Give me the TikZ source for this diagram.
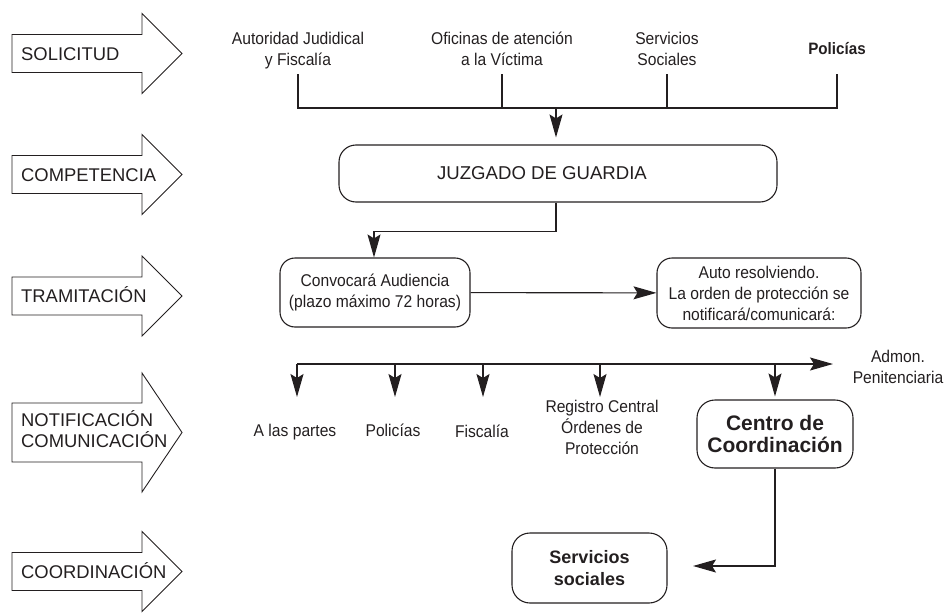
\documentclass[tikz,border=0pt]{standalone}
\usepackage{fontspec}
\setmainfont{Liberation Sans}
\newfontfamily\condfont[FakeStretch=0.92]{Liberation Sans}
\usetikzlibrary{arrows.meta}
\definecolor{ink}{RGB}{35,31,32}
\begin{document}
\begin{tikzpicture}[x=1pt, y=-1pt, color=ink,
  ln/.style={line width=1.1pt},
  blk/.style={line width=0.9pt, line join=miter},
  arr/.style={line width=1.1pt, -{Stealth[length=23pt,width=13pt,inset=4pt]}},
  lbl/.style={font=\fontsize{18.4}{20.5}\selectfont, anchor=base west, inner sep=0pt, align=left},
  cnd/.style={font=\condfont\fontsize{17}{21}\selectfont, align=center, inner sep=0pt},
  rbox/.style={draw, line width=1.1pt, rounded corners=15pt, align=center, inner sep=2pt},
  bld/.style={font=\bfseries\fontsize{21}{22}\selectfont},
]
\useasboundingbox (0,0) rectangle (948,613);

% left block arrows
\foreach \c/\h/\b in {53.5/40/19, 174.5/40/19, 296/40/19, 432.5/59.5/29.5, 571.5/40/19}
  \draw[blk] (12,\c-\b) -- (142,\c-\b) -- (142,\c-\h) -- (182,\c) -- (142,\c+\h) -- (142,\c+\b) -- (12,\c+\b) -- cycle;

\node[lbl] (lsol) at (21,60.1) {SOLICITUD};
\node[lbl] (lcom) at (21,181.1) {COMPETENCIA};
\node[lbl] (ltra) at (21,302.6) {TRAMITACIÓN};
\node[lbl] (lnot) at (21,447) {NOTIFICACIÓN\\COMUNICACIÓN};
\node[lbl] (lcoo) at (21,578.1) {COORDINACIÓN};

% sources (base anchor = last line)
\node[cnd, anchor=base] (aut) at (298,65) {Autoridad Judidical\\y Fiscalía};
\node[cnd, anchor=base] (ofi) at (502,65) {Oficinas de atención\\a la Víctima};
\node[cnd, anchor=base] (ser) at (667,65) {Servicios\\Sociales};
\node[cnd, anchor=base, font=\condfont\bfseries\fontsize{16.5}{20}\selectfont] (pol) at (837,54) {Policías};

\coordinate (a1) at (298,74);
\coordinate (a2) at (502,74);
\coordinate (a3) at (667,74);
\coordinate (a4) at (837,74);
\coordinate (busL) at (298,108);
\coordinate (busR) at (837,108);
\coordinate (busM) at (556,108);

\draw[ln] (a1) -- (busL) -- (busR) -- (a4);
\draw[ln] (a2) -- (a2 |- busL);
\draw[ln] (a3) -- (a3 |- busL);

% juzgado
\node[rbox, rounded corners=17pt, minimum width=438pt, minimum height=57pt,
      font=\fontsize{18.6}{20}\selectfont] (juz) at (558,173.5) {JUZGADO DE GUARDIA\hspace*{32pt}};
\draw[arr, shorten >=7pt] (busM) -- (busM |- juz.north);

% tramitacion
\node[rbox, cnd, draw, line width=1.1pt, rounded corners=15pt, inner sep=2pt,
      minimum width=190pt, minimum height=69pt] (conv) at (375,292.5)
      {Convocará Audiencia\\(plazo máximo 72 horas)};
\node[rbox, cnd, draw, line width=1.1pt, rounded corners=15pt, inner sep=2pt,
      minimum width=204pt, minimum height=70pt] (auto) at (759,293)
      {Auto resolviendo.\\La orden de protección se\\notificará/comunicará:};

\draw[arr] ([xshift=-2pt]juz.south) -- ++(0,29) -| ([xshift=-1pt]conv.north);
\draw[arr] (conv) -- (auto);

% notificacion
\coordinate (n0) at (297,364);
\coordinate (nend) at (833,364);
\coordinate (t1) at (297,397);
\coordinate (t2) at (395,397);
\coordinate (t3) at (483,397);
\coordinate (t4) at (600,397);
\draw[arr] (n0) -- (nend);
\draw[arr] (n0) -- (t1);
\draw[arr] (t2 |- n0) -- (t2);
\draw[arr] (t3 |- n0) -- (t3);
\draw[arr] (t4 |- n0) -- (t4);

\node[cnd, anchor=base] (par) at (295,436) {A las partes};
\node[cnd, anchor=base] (pol2) at (393,436) {Policías};
\node[cnd, anchor=base] (fis) at (482,437) {Fiscalía};
\node[cnd, anchor=base] (reg) at (602,454) {Registro Central\\Órdenes de\\Protección};
\node[cnd, anchor=base] (adm) at (898,383) {Admon.\\Penitenciaria};

\node[rbox, bld, rounded corners=18pt, minimum width=156pt, minimum height=68pt] (cen) at (775,434)
      {Centro de\\Coordinación};
\draw[arr, shorten >=3pt] (cen.north |- n0) -- (cen.north);

% coordinacion
\node[rbox, font=\bfseries\fontsize{18}{22}\selectfont, rounded corners=18pt,
      minimum width=155pt, minimum height=70pt] (ssoc) at (589.5,568) {Servicios\\sociales};
\coordinate (stip) at (693,566);
\draw[arr] (cen.south) |- (stip);
\end{tikzpicture}
\end{document}
